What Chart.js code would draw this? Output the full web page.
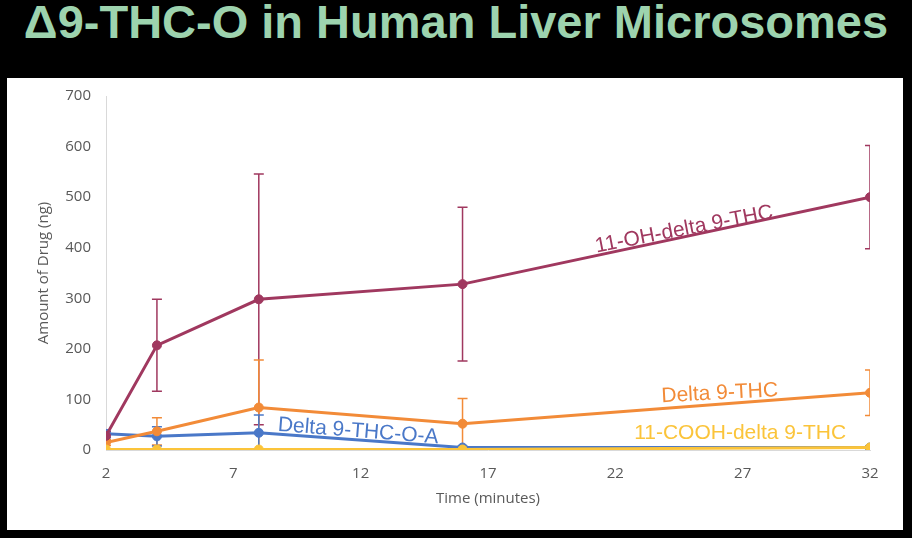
<!DOCTYPE html>
<html>
<head>
<meta charset="utf-8">
<script src="https://cdn.jsdelivr.net/npm/chart.js@4"></script>
<style>
  html, body { margin: 0; padding: 0; background: #000; }
  body { width: 912px; height: 538px; position: relative; overflow: hidden; }
  #title {
    position: absolute; left: 0; top: -4px; width: 912px; text-align: center;
    font-family: "Liberation Sans", Arial, sans-serif;
    font-weight: bold; font-size: 47px; line-height: 52px; color: #9dd3ae;
    white-space: nowrap;
  }
  #panel { position: absolute; left: 7px; top: 78px; width: 896px; height: 452px; background: #fff; }
</style>
</head>
<body>
<div id="title">Δ9-THC-O in Human Liver Microsomes</div>
<div id="panel"><canvas id="chart" width="896" height="452"></canvas></div>
<script>
// ── Data ─────────────────────────────────────────────────────
const times = [2, 4, 8, 16, 32];
const xTicks = [2, 7, 12, 17, 22, 27, 32];
const yTicks = [0, 100, 200, 300, 400, 500, 600, 700];

const ohThc     = [28, 207, 298, 328, 500];
const ohThcErr  = [8, 91, 248, 152, 102];
const thc       = [15, 37, 84, 52, 113];
const thcErr    = [6, 27, 94, 50, 45];
const thcOA     = [32, 27, 34, 5, 5];
const thcOAErr  = [8, 19, 35, 3, 3];
const coohThc   = [1, 1, 1, 1, 5];
const coohErr   = [0, 0, 0, 0, 0];

const COLORS = {
  oh: '#a0385f',
  thc: '#f28b38',
  oa: '#4a78c8',
  cooh: '#fbc43a',
};

const toPoints = (vals) => vals.map((v, i) => ({ x: times[i], y: v }));

// ── Error bars (drawn through the scales) ────────────────────
const errorBars = {
  id: 'errorBars',
  beforeDatasetsDraw(chart) {
    const { ctx, chartArea, scales: { x, y } } = chart;
    ctx.save();
    ctx.beginPath();
    ctx.rect(chartArea.left, chartArea.top - 40, chartArea.width, chartArea.height + 40);
    ctx.clip();
    chart.data.datasets.forEach((ds) => {
      if (!ds.err) return;
      ctx.strokeStyle = ds.borderColor;
      ctx.lineWidth = 1.5;
      ds.data.forEach((p, i) => {
        const e = ds.err[i];
        if (!e) return;
        const px = x.getPixelForValue(p.x);
        const top = y.getPixelForValue(p.y + e);
        const bot = y.getPixelForValue(p.y - e);
        ctx.beginPath();
        ctx.moveTo(px, top); ctx.lineTo(px, bot);
        ctx.moveTo(px - 5, top); ctx.lineTo(px + 5, top);
        ctx.moveTo(px - 5, bot); ctx.lineTo(px + 5, bot);
        ctx.stroke();
      });
    });
    ctx.restore();
  },
};

// ── Series labels, anchored in data space ────────────────────
const seriesLabels = [
  { text: '11-OH-delta 9-THC',   x: 24.7, y: 436, rot: -11,  color: COLORS.oh },
  { text: 'Delta 9-THC',         x: 26.1, y: 112, rot: -3,   color: COLORS.thc },
  { text: 'Delta 9-THC-O-A',     x: 11.9, y: 37,  rot: 4.5,  color: COLORS.oa },
  { text: '11-COOH-delta 9-THC', x: 26.9, y: 33,  rot: 0,    color: COLORS.cooh },
];

const labelPlugin = {
  id: 'seriesLabels',
  afterDatasetsDraw(chart) {
    const { ctx, scales: { x, y } } = chart;
    ctx.save();
    ctx.font = '21px "Liberation Sans", Arial, sans-serif';
    ctx.textAlign = 'center';
    ctx.textBaseline = 'middle';
    seriesLabels.forEach((l) => {
      ctx.save();
      ctx.translate(x.getPixelForValue(l.x), y.getPixelForValue(l.y));
      ctx.rotate(l.rot * Math.PI / 180);
      ctx.fillStyle = l.color;
      ctx.fillText(l.text, 0, 0);
      ctx.restore();
    });
    ctx.restore();
  },
};

const line = (data, color, err, order) => ({
  data: toPoints(data),
  err,
  borderColor: color,
  backgroundColor: color,
  pointBackgroundColor: color,
  pointBorderColor: color,
  pointRadius: 4.5,
  pointBorderWidth: 1,
  borderWidth: 3,
  tension: 0,
  order,
});

const TICK_FONT = { family: '"Open Sans", sans-serif', size: 15 };

new Chart(document.getElementById('chart'), {
  type: 'line',
  data: {
    datasets: [
      line(coohThc, COLORS.cooh, coohErr, 1),
      line(ohThc, COLORS.oh, ohThcErr, 2),
      line(thc, COLORS.thc, thcErr, 3),
      line(thcOA, COLORS.oa, thcOAErr, 4),
    ],
  },
  options: {
    responsive: false,
    animation: false,
    layout: { padding: { top: 18, right: 33, bottom: 0, left: 0 } },
    plugins: { legend: { display: false }, tooltip: { enabled: false } },
    scales: {
      x: {
        type: 'linear',
        min: 2, max: 32,
        afterBuildTicks: (s) => { s.ticks = xTicks.map((v) => ({ value: v })); },
        afterFit: (s) => { s.height = 80; },
        grid: { display: false, drawTicks: false },
        border: { display: true, color: '#d9d9d9', width: 1 },
        ticks: { color: '#595959', font: TICK_FONT, padding: 15 },
        title: { display: true, text: 'Time (minutes)', color: '#595959', font: TICK_FONT, padding: { top: 0, bottom: 22 } },
      },
      y: {
        min: 0, max: 700,
        afterBuildTicks: (s) => { s.ticks = yTicks.map((v) => ({ value: v })); },
        afterFit: (s) => { s.width = 99; s.paddingTop = 0; s.paddingBottom = 0; },
        grid: { display: false, drawTicks: false },
        border: { display: true, color: '#d9d9d9', width: 1 },
        ticks: { color: '#595959', font: TICK_FONT, padding: 15 },
        title: { display: true, text: 'Amount of Drug (ng)', color: '#595959', font: TICK_FONT, padding: { top: 28, bottom: 0 } },
      },
    },
  },
  plugins: [errorBars, labelPlugin],
});
</script>
</body>
</html>
